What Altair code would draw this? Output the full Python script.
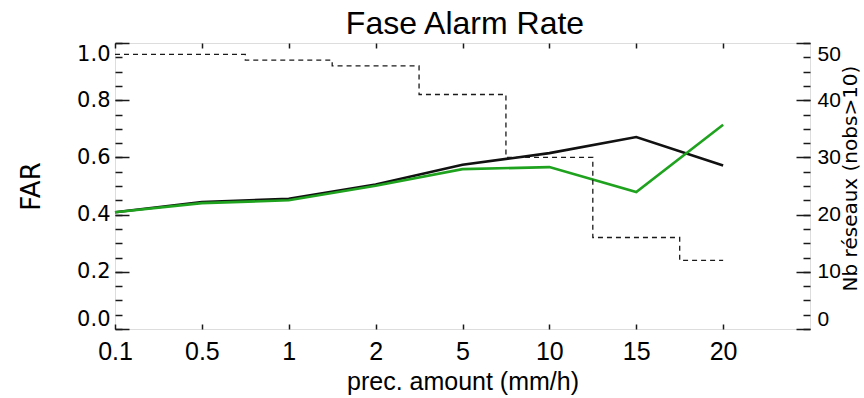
import json
import altair as alt
import pandas as pd

# ---- data ----
x_labels = ["0.1", "0.5", "1", "2", "5", "10", "15", "20"]
far_black = [0.408, 0.444, 0.455, 0.505, 0.574, 0.615, 0.671, 0.572]
far_green = [0.408, 0.440, 0.450, 0.501, 0.559, 0.566, 0.479, 0.714]
nb_reseaux = [48, 48, 47, 46, 41, 30, 16, 12]

far_major = [0.0, 0.2, 0.4, 0.6, 0.8, 1.0]
far_minor = [0.0, 0.05, 0.1, 0.15, 0.2, 0.25, 0.3, 0.35, 0.4, 0.45, 0.5,
             0.55, 0.6, 0.65, 0.7, 0.75, 0.8, 0.85, 0.9, 0.95, 1.0]
nb_major = [0, 10, 20, 30, 40, 50]
nb_minor = [0, 2.5, 5, 7.5, 10, 12.5, 15, 17.5, 20, 22.5, 25, 27.5, 30,
            32.5, 35, 37.5, 40, 42.5, 45, 47.5, 50]
x_tick_idx = [0, 1, 2, 3, 4, 5, 6, 7]

chart_title = "Fase Alarm Rate"
x_title = "prec. amount (mm/h)"
y_left_title = "FAR"
y_right_title = "Nb réseaux (nobs>10)"

W, H = 695, 286
INK = "#1a1a1a"

df = pd.DataFrame({
    "idx": list(range(len(x_labels))),
    "label": x_labels,
    "black": far_black,
    "green": far_green,
    "nb": nb_reseaux,
})

label_expr = json.dumps(x_labels) + "[datum.value]"

xscale = alt.Scale(domain=[0, 8], nice=False, zero=False)
far_scale = alt.Scale(domain=[0, 1], nice=False, zero=False)
nb_scale = alt.Scale(domain=[0, 50], nice=False, zero=False)


def tick_axis(orient, values, size, offset, **extra):
    opts = dict(orient=orient, values=values, offset=offset, ticks=True,
                tickSize=size, tickColor=INK, tickWidth=1.5, labels=False,
                domain=False, grid=False, title=None)
    opts.update(extra)
    return alt.Axis(**opts)


x_main = alt.X("idx:Q", scale=xscale, axis=alt.Axis(
    orient="bottom", values=x_tick_idx, labelExpr=label_expr, labelFlush=False,
    ticks=False, domain=False, grid=False, labelFont="Liberation Sans",
    labelFontSize=25, labelColor="black", labelPadding=30,
    labelBaseline="alphabetic", labelOverlap=False,
    title=x_title, titleFont="Liberation Sans", titleFontSize=25,
    titleFontWeight="normal", titleColor="black", titleX=W / 2, titleY=60,
    titleBaseline="alphabetic", titleAlign="center"))
x_in_bottom = alt.X("idx:Q", scale=xscale, axis=tick_axis("top", x_tick_idx, 5, -H))
# top frame ticks; this axis also carries the chart title text
x_in_top = alt.X("idx:Q", scale=xscale, axis=tick_axis(
    "bottom", x_tick_idx, 5, -H, title=chart_title, titleFont="Liberation Sans",
    titleFontSize=32, titleFontWeight="normal", titleColor="black",
    titleX=W / 2 + 2, titleY=-10, titleAlign="center",
    titleBaseline="alphabetic"))
x_none = alt.X("idx:Q", scale=xscale, axis=None)

y_left = alt.Y("black:Q", scale=far_scale, axis=alt.Axis(
    orient="left", values=far_major, format=".1f", ticks=False, domain=False,
    grid=False, labelFlush=True, labelFont="DejaVu Sans", labelFontSize=21,
    labelColor="black", labelPadding=5, title=y_left_title,
    titleFont="DejaVu Sans", titleFontSize=26, titleFontWeight="normal",
    titleColor="black", titleX=-84, titleY=H / 2, titleAngle=270,
    titleAlign="center", titleBaseline="middle"))
y_right = alt.Y("nb:Q", scale=nb_scale, axis=alt.Axis(
    orient="right", values=nb_major, ticks=False, domain=False, grid=False,
    labelFlush=True, labelFont="Liberation Sans", labelFontSize=21,
    labelColor="black", labelPadding=7, title=y_right_title,
    titleFont="DejaVu Sans", titleFontSize=20, titleFontWeight="normal",
    titleColor="black", titleX=40, titleY=135, titleAngle=270,
    titleAlign="center", titleBaseline="middle"))

base = alt.Chart(df)

l_black = base.mark_line(color="#111111", strokeWidth=2.6).encode(x=x_main, y=y_left)
l_green = base.mark_line(color="#1fa31f", strokeWidth=2.6).encode(
    x=x_in_bottom,
    y=alt.Y("green:Q", scale=far_scale, axis=tick_axis("right", far_major, 14, -W)))
l_nb = base.mark_line(color=INK, strokeWidth=1.3, strokeDash=[5, 4],
                      interpolate="step").encode(x=x_in_top, y=y_right)
l_nb_major = base.mark_line(strokeOpacity=0).encode(
    x=x_none, y=alt.Y("nb:Q", scale=nb_scale, axis=tick_axis("left", nb_major, 14, -W)))
l_nb_minor = base.mark_line(strokeOpacity=0).encode(
    x=x_none, y=alt.Y("nb:Q", scale=nb_scale, axis=tick_axis("left", nb_minor, 7, -W)))
l_far_minor = base.mark_line(strokeOpacity=0).encode(
    x=x_none, y=alt.Y("black:Q", scale=far_scale, axis=tick_axis("right", far_minor, 7, -W)))

chart = alt.layer(
    l_black, l_green, l_nb, l_nb_major, l_nb_minor, l_far_minor
).resolve_scale(
    y="independent"
).resolve_axis(
    x="independent", y="independent"
).properties(
    width=W, height=H,
    autosize=alt.AutoSizeParams(type="none"),
    padding={"left": 115, "top": 43, "right": 54, "bottom": 69},
).configure_view(
    stroke=INK, strokeWidth=1.5
).configure(background="white")

chart.save("out.html", embed_options={"renderer": "svg", "actions": False})
